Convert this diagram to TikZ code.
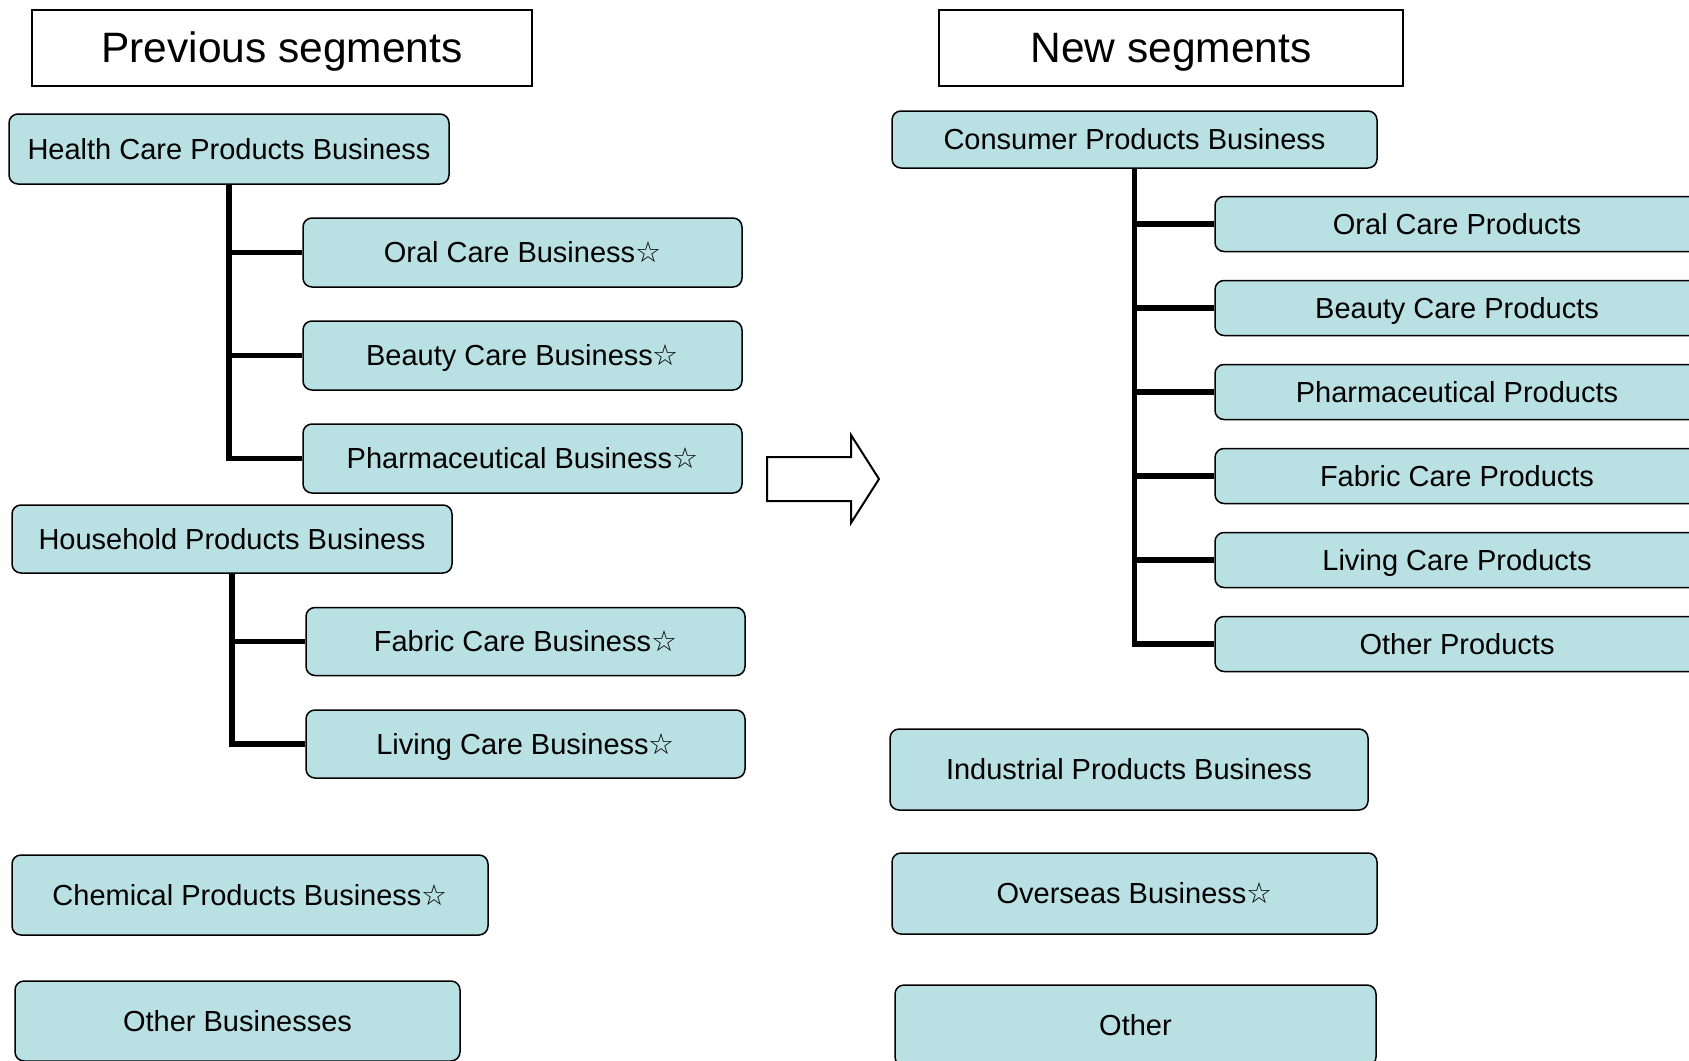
\documentclass[tikz,border=0pt]{standalone}
\usepackage{fontspec}
\setmainfont{Liberation Sans}
\newfontfamily\starfont{DejaVu Sans}
\newcommand{\wstar}{{\starfont ☆}}
\definecolor{segfill}{RGB}{185,224,227}
\begin{document}
\begin{tikzpicture}[x=1pt,y=-1pt,
  seg/.style={draw=black, line width=1.5pt, fill=segfill, rounded corners=9pt,
    inner sep=0pt, font=\fontsize{29}{34}\selectfont, text=black,
    text height=26.2pt, text depth=6.15pt},
  ttl/.style={draw=black, line width=2pt, fill=white, inner sep=0pt,
    font=\fontsize{42.5}{50}\selectfont, text height=38.5pt, text depth=9pt},
  conn/.style={draw=black, line width=5.5pt, line join=miter},
  bigarrow/.style={draw=black, line width=2pt, fill=white, line join=miter}]
\useasboundingbox (0,0) rectangle (1689,1060);
\clip (0,0) rectangle (1689,1060);

% headings
\node[ttl, minimum width=500pt, minimum height=76pt] (prev) at (282,48) {Previous segments};
\node[ttl, minimum width=464pt, minimum height=76pt] (new) at (1171,48) {New segments};

% previous segments
\node[seg, minimum width=440pt, minimum height=70pt] (hc) at (229,149) {Health Care Products Business};
\node[seg, minimum width=439pt, minimum height=69pt] (ocb) at (522.5,252.5) {Oral Care Business\wstar};
\node[seg, minimum width=439pt, minimum height=69pt] (bcb) at (522.5,355.5) {Beauty Care Business\wstar};
\node[seg, minimum width=439pt, minimum height=69pt] (phb) at (522.5,458.5) {Pharmaceutical Business\wstar};
\node[seg, minimum width=440pt, minimum height=68pt] (hh) at (232,539) {Household Products Business};
\node[seg, minimum width=439pt, minimum height=68pt] (fcb) at (525.5,641.5) {Fabric Care Business\wstar};
\node[seg, minimum width=439pt, minimum height=68pt] (lcb) at (525.5,744) {Living Care Business\wstar};
\node[seg, minimum width=476pt, minimum height=80pt] (chem) at (250,895) {Chemical Products Business\wstar};
\node[seg, minimum width=445pt, minimum height=80pt] (othb) at (237.5,1021) {Other Businesses};

% new segments
\node[seg, minimum width=485pt, minimum height=57pt] (cpb) at (1134.5,139.5) {Consumer Products Business};
\node[seg, minimum width=484pt, minimum height=55pt] (ocp) at (1457,224) {Oral Care Products};
\node[seg, minimum width=484pt, minimum height=55pt] (bcp) at (1457,308) {Beauty Care Products};
\node[seg, minimum width=484pt, minimum height=55pt] (php) at (1457,392) {Pharmaceutical Products};
\node[seg, minimum width=484pt, minimum height=55pt] (fcp) at (1457,476) {Fabric Care Products};
\node[seg, minimum width=484pt, minimum height=55pt] (lcp) at (1457,560) {Living Care Products};
\node[seg, minimum width=484pt, minimum height=55pt] (otp) at (1457,644) {Other Products};
\node[seg, minimum width=478pt, minimum height=81pt] (ipb) at (1129,769.5) {Industrial Products Business};
\node[seg, minimum width=485pt, minimum height=81pt] (ovb) at (1134.5,893.5) {Overseas Business\wstar};
\node[seg, minimum width=481pt, minimum height=81pt] (oth) at (1135.5,1025.5) {Other};

% tree connectors
\foreach \c in {ocb,bcb,phb} \draw[conn] (hc.south) |- (\c.west);
\foreach \c in {fcb,lcb} \draw[conn] (hh.south) |- (\c.west);
\foreach \c in {ocp,bcp,php,fcp,lcp,otp} \draw[conn] (cpb.south) |- (\c.west);

% transition arrow
\draw[bigarrow] (767,457) -- (851,457) -- (851,435) -- (879,479)
  -- (851,523) -- (851,501) -- (767,501) -- cycle;
\end{tikzpicture}
\end{document}
